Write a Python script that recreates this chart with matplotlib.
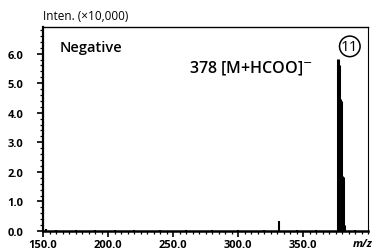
import matplotlib
matplotlib.use("Agg")
import matplotlib.pyplot as plt
from matplotlib.ticker import MultipleLocator

# m/z peaks and intensities (x10,000)
mz = [331.5, 377.0, 377.8, 378.6, 379.4, 380.2, 381.0, 381.8]
inten = [0.33, 5.83, 5.6, 4.47, 4.4, 1.86, 1.82, 0.2]
# baseline noise
noise_mz = [152, 160, 175, 190, 205, 220, 240, 260, 280, 300, 320, 345, 360, 390]
noise_int = [0.06, 0.04, 0.03, 0.03, 0.03, 0.04, 0.05, 0.04, 0.04, 0.05, 0.04, 0.04, 0.04, 0.04]

xticks = [150, 200, 250, 300, 350]
xticklabels = ["150.0", "200.0", "250.0", "300.0", "350.0"]
yticks = [0, 1, 2, 3, 4, 5, 6]
yticklabels = ["0.0", "1.0", "2.0", "3.0", "4.0", "5.0", "6.0"]

plt.rcParams['font.family'] = ['Open Sans', 'DejaVu Sans']

fig = plt.figure(figsize=(3.81, 2.51), dpi=100)
ax = fig.add_axes([43/381, 1-232/251, 325/381, 204/251])

ax.vlines(noise_mz, 0, noise_int, color='black', lw=1.5)
ax.vlines(mz[:1], 0, inten[:1], color='black', lw=1.5)
ax.vlines(mz[1:], 0, inten[1:], color='black', lw=2.2)

ax.set_xlim(150, 400)
ax.set_ylim(0, 6.9)
ax.set_xticks(xticks)
ax.set_xticklabels(xticklabels)
ax.set_yticks(yticks)
ax.set_yticklabels(yticklabels)
ax.xaxis.set_minor_locator(MultipleLocator(5))
ax.yaxis.set_minor_locator(MultipleLocator(0.2))
ax.tick_params(axis='both', which='major', length=4, width=1.2, labelsize=8, direction='out')
ax.tick_params(axis='y', which='major', pad=10)
ax.tick_params(axis='x', which='major', pad=2)
ax.tick_params(axis='both', which='minor', length=2, width=0.9, direction='out')
for lab in ax.get_xticklabels() + ax.get_yticklabels():
    lab.set_fontweight('bold')

ax.spines['left'].set_linewidth(1.6)
ax.spines['bottom'].set_linewidth(1.8)
ax.spines['top'].set_linewidth(1.0)
ax.spines['right'].set_linewidth(0.8)

ax.text(0.0, 1.025, "Inten. (×10,000)", transform=ax.transAxes, fontsize=8.5,
        ha='left', va='bottom')
ax.text(1.015, -0.035, "m/z", transform=ax.transAxes, fontsize=8, style='italic',
        ha='right', va='top', fontweight='bold')
ax.text(0.052, 0.9, "Negative", transform=ax.transAxes, fontsize=10.5,
        ha='left', va='center', fontweight='semibold')
ax.text(0.45, 0.8, "378 [M+HCOO]$^{-}$", transform=ax.transAxes, fontsize=11.5,
        ha='left', va='center', fontweight='semibold')
ax.text(0.944, 0.905, "11", transform=ax.transAxes, fontsize=11,
        ha='center', va='center',
        bbox=dict(boxstyle='circle,pad=0.1', fc='white', ec='black', lw=1.1))

fig.savefig("out.png", dpi=100)
